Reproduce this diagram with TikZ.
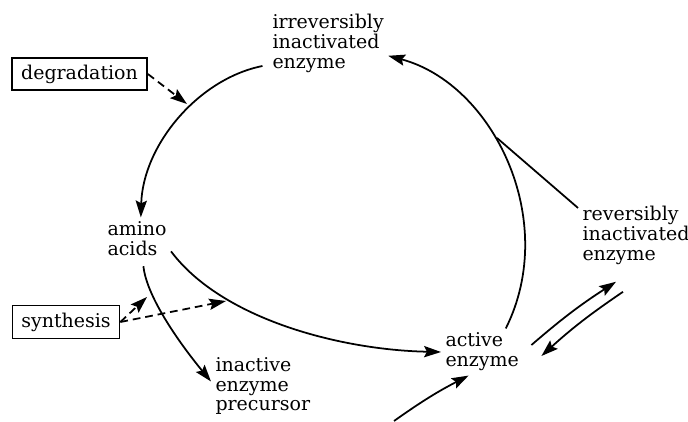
\documentclass[tikz,border=0pt]{standalone}
\usepackage{fontspec}
\setmainfont{DejaVu Serif}
\usetikzlibrary{arrows.meta, calc}

\begin{document}
\begin{tikzpicture}[x=0.025cm, y=-0.025cm,
							lbl/.style={align=left, inner sep=3pt, font=\fontsize{13.5}{14.2}\selectfont},
							box/.style={draw, line width=1.2pt, inner sep=0pt, font=\fontsize{13.5}{14.2}\selectfont},
							arr/.style={-{Stealth[length=12pt, width=8pt, inset=2pt]}, line width=1.25pt},
							dasharr/.style={arr, dash pattern=on 5.5pt off 3.5pt}
						]
						\useasboundingbox (0,0) rectangle (688,421);
						\node[lbl, anchor=west] (irr) at (268,43) {irreversibly\\inactivated\\enzyme};
						\node[lbl, anchor=west] (amino) at (103,239) {amino\\acids};
						\node[lbl, anchor=west] (prec) at (211,386) {inactive\\enzyme\\precursor};
						\node[lbl, anchor=west] (active) at (441,352) {active\\enzyme};
						\node[lbl, anchor=west] (rev) at (578,235) {reversibly\\inactivated\\enzyme};
						\node[box, minimum width=3.375cm, minimum height=0.8cm] (deg) at (79.5,74) {degradation};
						\node[box, minimum width=2.675cm, minimum height=0.825cm] (synth) at (66,322) {synthesis};
						\coordinate (degtip) at (187,104);
						\coordinate (synthtipa) at (147,297);
						\coordinate (synthtipb) at (226,301);
						\coordinate (join) at (497,138);
						\coordinate (src) at (394,421);
						\draw[arr, shorten <=4pt] (irr.200) .. controls +(-70,14) and +(2,-72) .. (amino.80);
						\draw[arr] (active.45) .. controls +(54,-108) and +(105,28) .. (irr.-12);
						\draw[line width=1.25pt] (rev.155) -- (join);
						\draw[arr] (amino.-20) .. controls +(51,68) and +(-100,-2) .. (active.west);
						\draw[arr, shorten <=4pt] (amino.-75) .. controls +(4,38) and +(-28,-34) .. (prec.175);
						\draw[arr] (src) to[bend left=4] (active.240);
						\draw[arr] ($(active.east)+(8,-7)$) to[bend left=4] ($(rev.south)+(-20,13)$);
						\draw[arr] ($(rev.south)+(-13,23)$) to[bend right=4] ($(active.east)+(18,4)$);
						\draw[dasharr] (deg.east) -- (degtip);
						\foreach \t in {synthtipa, synthtipb} {
								\draw[dasharr] (synth.east) -- (\t);
							}
					\end{tikzpicture}
\end{document}
